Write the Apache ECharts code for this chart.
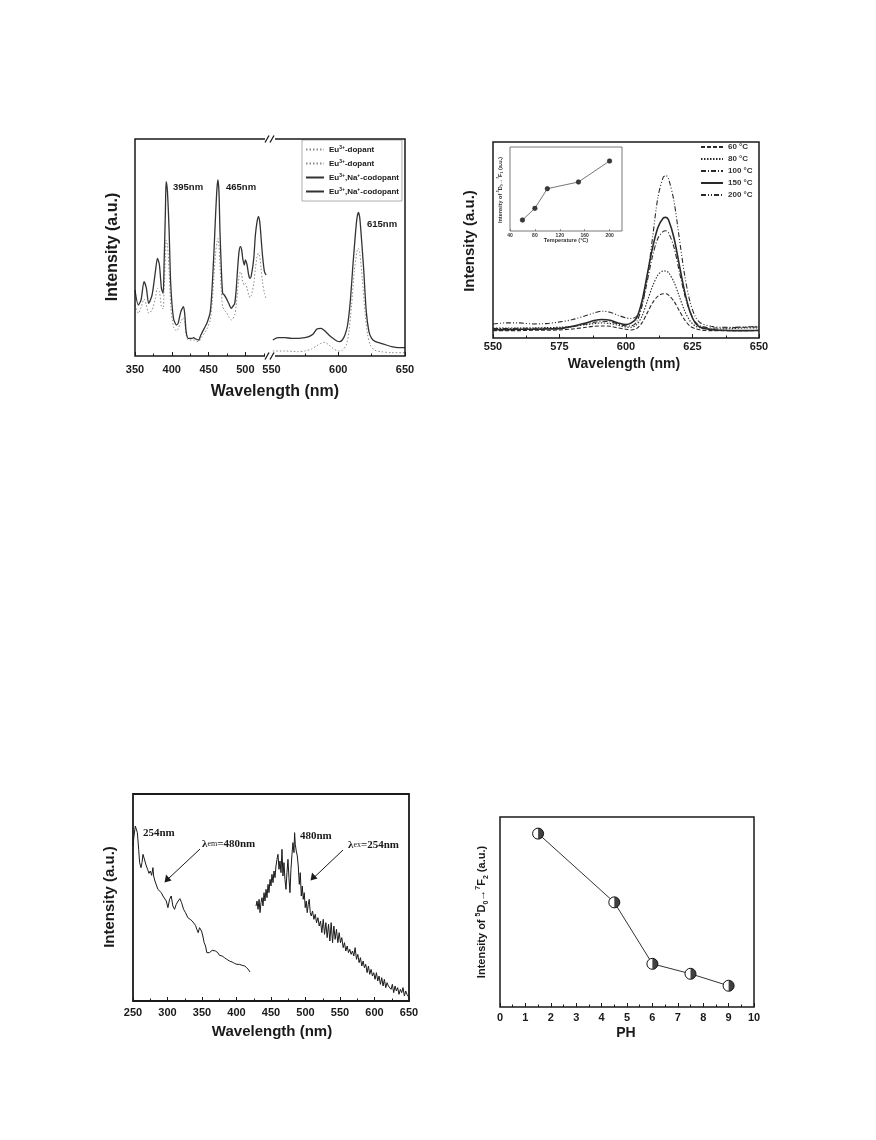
<!DOCTYPE html>
<html><head><meta charset="utf-8">
<script src="https://cdn.jsdelivr.net/npm/echarts@6/dist/echarts.min.js"></script>
<style>html,body{margin:0;padding:0;background:#fff}#c{width:876px;height:1140px}</style>
</head><body><div id="c"></div>
<script>
// ---------- Panel A (top-left): excitation / emission, broken x axis ----------
const aCodopLeft = [[350,198],[354.5,153],[358.2,168],[362.3,223],[365.5,203],[368.6,158],[373.2,183],[377.7,253],[380.5,293],[383.2,273],[385.9,203],[388.2,188],[389.5,273],[391.4,443],[392.3,523],[394.1,493],[396.4,373],[398.6,213],[402.3,113],[406.4,93],[408.6,98],[412.3,133],[415.9,148],[417.7,123],[419.5,73],[422.3,53],[427.7,53],[429.5,55],[432.7,51],[436.4,48],[439.5,63],[444.1,83],[447.7,98],[452.3,133],[455,213],[457.3,313],[459.5,423],[461.4,503],[462.7,528],[464.1,493],[465.5,373],[467.3,263],[469.1,188],[471.4,183],[474.1,173],[477.3,158],[480.9,143],[482.7,148],[485.5,158],[487.3,193],[489.5,263],[491.4,313],[493.2,328],[495,318],[496.4,293],[498.6,273],[500,288],[502.3,273],[504.5,243],[506.4,233],[508.2,243],[511.4,293],[513.6,363],[515.9,403],[517.7,418],[519.5,403],[521.4,353],[523.2,303],[525.9,253],[528.2,243]];
const aDopLeft = [[350,153],[354.5,128],[358.2,145],[362.3,171],[365.5,153],[368.6,128],[373.2,138],[377.7,173],[380.5,203],[383.2,193],[385.9,148],[388.2,141],[389.5,193],[391.4,303],[392.3,348],[394.1,333],[396.4,253],[398.6,148],[402.3,88],[406.4,75],[408.6,81],[412.3,103],[415.9,115],[417.7,101],[419.5,63],[422.3,48],[427.7,48],[429.5,48],[432.7,45],[436.4,43],[439.5,53],[444.1,68],[447.7,81],[452.3,108],[455,163],[457.3,238],[459.5,308],[461.4,343],[462.7,353],[464.1,333],[465.5,273],[467.3,193],[469.1,148],[471.4,138],[474.1,131],[477.3,118],[480.9,108],[482.7,111],[485.5,123],[487.3,148],[489.5,198],[491.4,238],[493.2,253],[495,243],[496.4,223],[498.6,213],[500,218],[502.3,203],[504.5,183],[506.4,175],[508.2,181],[511.4,218],[513.6,263],[515.9,298],[517.7,308],[519.5,298],[521.4,263],[523.2,223],[525.9,188],[528.2,173]];
const aCodopRight = [[551,48],[555,55],[560,55],[565,53],[570,53],[575,55],[578,58],[581,65],[584,81],[587,83],[590,75],[593,63],[596,53],[599,45],[601,43],[603,48],[605,63],[607,93],[609,163],[611,273],[613,373],[614,413],[615,431],[616,418],[617,373],[619,263],[621,133],[623,73],[625,53],[628,43],[632,38],[636,33],[640,28],[645,25],[650,25]];
const aDopRight = [[551,15],[560,15],[570,13],[575,15],[580,21],[584,31],[587,38],[590,41],[593,33],[596,23],[600,15],[603,17],[606,33],[608,73],[610,153],[612,253],[614,313],[615,323],[616,313],[618,233],[620,133],[622,63],[624,33],[627,18],[632,13],[640,10],[650,10]];
const aLegendText = {d1:'{n|Eu}{s|3+}{n|-dopant}', d2:'{n|Eu}{s|3+}{n|-dopant}', c1:'{n|Eu}{s|3+}{n|,Na}{s|+}{n|-codopant}', c2:'{n|Eu}{s|3+}{n|,Na}{s|+}{n|-codopant}'};

// ---------- Panel B (top-right): temperature series ----------
const bX = [550,555,560,565,570,575,580,585,588,591,594,597,600,602,604,606,608,610,612,614,615,616,618,620,622,624,626,628,632,636,640,645,650];
const b60  = [22,22,22,23,23,24,27,32,35,36,35,30,26,24,28,45,75,105,125,132,132,128,110,82,55,36,28,24,22,22,22,22,22];
const b80  = [30,30,30,30,31,32,35,40,43,45,43,38,33,32,40,65,110,155,188,200,200,195,168,125,82,52,36,30,27,27,28,30,30];
const b100 = [28,28,29,29,29,30,34,42,47,50,48,42,36,36,48,95,170,245,298,318,320,314,272,200,130,80,48,36,30,30,31,32,33];
const b150 = [25,25,26,26,27,28,35,45,52,55,53,45,40,45,60,110,190,270,330,358,360,352,300,220,140,80,45,32,25,23,22,22,23];
const b200 = [42,45,45,42,43,48,55,67,75,80,77,68,60,58,65,100,180,300,420,480,485,475,410,300,190,110,65,45,35,32,32,33,35];
const bNames = ['60 °C','80 °C','100 °C','150 °C','200 °C'];
const insetTemp = [60,80,100,150,200];
const insetVal = [33,68,127,147,210];

// ---------- Panel C (bottom-left): excitation & emission ----------
const cExc = [[250,465],[251.4,495],[253.4,525],[254.8,527],[256.3,505],[258.2,455],[259.6,415],[261.6,400],[263,415],[264.5,440],[265.9,445],[267.3,435],[269.3,405],[271.2,395],[273.1,383],[275.1,390],[277,377],[278.9,400],[279.9,375],[281.8,360],[283.7,355],[286.1,335],[288.6,330],[291,325],[293.4,315],[295.8,315],[298.2,300],[300.6,280],[303,305],[305.4,315],[307.8,285],[310.2,275],[312.7,290],[315.5,300],[318,307],[320.4,295],[323.3,275],[326.1,265],[329.5,250],[332.9,245],[335.8,240],[338.2,240],[340.6,227],[342.5,215],[344.5,205],[346.4,220],[347.8,225],[349.3,210],[351.2,195],[353.1,175],[355.1,165],[357,145],[358.9,147],[360.8,145],[362.8,150],[364.7,152],[366.6,155],[369.5,150],[372.9,145],[375.3,137],[379.2,135],[382.5,130],[385.9,125],[389.8,120],[393.6,117],[397,113],[400.4,110],[404.2,110],[408.1,107],[411.9,105],[414.8,100],[417.7,93],[419.6,87]];
const cEm = [[428.3,285],[429.8,300],[431.2,275],[432.7,305],[434.1,265],[435.5,295],[437,310],[438.4,285],[439.9,325],[441.3,300],[442.8,335],[444.2,310],[445.7,350],[447.1,325],[448.6,365],[450,345],[451.4,380],[452.9,355],[454.3,390],[455.8,370],[457.2,405],[458.7,425],[460.1,440],[461.6,395],[463,420],[464.5,385],[465.9,455],[467.3,375],[468.8,415],[470.2,365],[471.7,335],[473.1,385],[474.6,425],[476,370],[477.5,325],[478.9,395],[480.4,440],[481.8,475],[483.3,445],[484.2,505],[485.2,470],[486.6,450],[488.1,435],[489.5,405],[491,350],[492.4,385],[493.9,315],[495.3,345],[496.7,305],[498.2,325],[499.6,280],[501.1,300],[502.5,265],[504,290],[505.4,305],[506.9,265],[508.3,255],[510.2,270],[512.2,245],[514.1,260],[516,235],[518,250],[519.9,225],[521.8,240],[523.7,205],[525.7,245],[527.6,200],[529.5,235],[531.4,190],[533.4,230],[535.3,180],[537.2,235],[539.2,175],[541.1,225],[543,185],[544.9,215],[546.9,175],[548.8,205],[550.7,175],[552.6,190],[554.6,160],[556.5,175],[558.4,150],[560.4,165],[562.3,145],[564.2,155],[566.1,140],[568.1,150],[570,135],[571.9,160],[573.9,125],[575.8,140],[577.7,115],[579.6,130],[581.6,105],[583.5,120],[585.4,100],[587.3,110],[589.3,85],[591.2,105],[593.1,80],[595.1,95],[597,75],[598.9,85],[600.8,65],[602.8,85],[604.7,60],[606.6,75],[608.6,50],[610.5,70],[612.4,45],[614.3,65],[616.3,40],[618.2,55],[620.1,45],[622,50],[624,35],[625.9,50],[627.8,25],[629.8,45],[631.7,30],[633.6,40],[635.5,20],[637.5,35],[639.4,25],[641.3,40],[643.3,15],[645.2,30],[647.1,20],[649,15],[650,10]];

// ---------- Panel D (bottom-right): pH ----------
const dPH = [1.5,4.5,6,7.5,9];
const dVal = [522,315,130,100,64];

// ================= chart =================
const SANS = 'Liberation Sans, Arial, sans-serif';
const SERIF = 'Liberation Serif, Times New Roman, serif';
const INK = '#1a1a1a';
const G = {
  aL:{left:135, top:139, width:136.5, height:217},
  aR:{left:271.5, top:139, width:133.5, height:217},
  b:{left:493, top:142, width:266, height:196},
  bi:{left:510, top:147, width:112, height:84},
  c:{left:133, top:794, width:276, height:207},
  d:{left:500, top:817, width:254, height:190}
};
const zip = (xs, ys) => xs.map((x,i)=>[x, ys[i]]);
const tickLbl = (size, margin) => ({fontFamily:SANS, fontWeight:'bold', fontSize:size, color:INK, margin:margin});
function xAx(grid, min, max, interval, lbl, extra) {
  return Object.assign({
    type:'value', gridIndex:grid, min:min, max:max, interval:interval,
    axisLine:{show:false}, splitLine:{show:false},
    axisTick:{show:true, inside:true, length:4, lineStyle:{color:INK, width:1}},
    minorTick:{show:true, splitNumber:2, length:2.5, lineStyle:{color:INK, width:1}},
    axisLabel:lbl
  }, extra || {});
}
function yAx(grid, max) {
  return {type:'value', gridIndex:grid, min:0, max:max, show:false};
}
const frame = {show:true, borderColor:INK, borderWidth:1.5, backgroundColor:'transparent'};

const series = [];
// Panel A
series.push({name:'d1', type:'line', xAxisIndex:0, yAxisIndex:0, data:aDopLeft, symbol:'none', smooth:0.25, color:'#8c8c8c', lineStyle:{color:'#8c8c8c', width:1, type:[1.5,2]}});
series.push({name:'d2', type:'line', xAxisIndex:1, yAxisIndex:1, data:aDopRight, symbol:'none', smooth:0.25, color:'#8c8c8c', lineStyle:{color:'#8c8c8c', width:1, type:[1.5,2]}});
series.push({name:'c1', type:'line', xAxisIndex:0, yAxisIndex:0, data:aCodopLeft, symbol:'none', smooth:0.25, color:'#333', lineStyle:{color:'#333', width:1.3}});
series.push({name:'c2', type:'line', xAxisIndex:1, yAxisIndex:1, data:aCodopRight, symbol:'none', smooth:0.25, color:'#333', lineStyle:{color:'#333', width:1.3}});
// Panel B
const bData = [b60,b80,b100,b150,b200];
const bDash = [[4,2],[1.5,1.5],[5,2,1,2],'solid',[5,2,1,2,1,2]];
bData.forEach((arr,i)=>{
  series.push({name:bNames[i], type:'line', xAxisIndex:2, yAxisIndex:2, data:zip(bX,arr), symbol:'none', smooth:0.3,
    color:'#2a2a2a', lineStyle:{color:'#2a2a2a', width: i===3 ? 1.6 : 1.1, type:bDash[i]}});
});
series.push({name:'inset', type:'line', xAxisIndex:3, yAxisIndex:3, data:zip(insetTemp,insetVal), symbol:'circle', symbolSize:4.5,
  itemStyle:{color:'#3a3a3a', borderColor:'#222', borderWidth:0.6}, lineStyle:{color:'#666', width:0.9}, z:6});
// Panel C
series.push({name:'exc', type:'line', xAxisIndex:4, yAxisIndex:4, data:cExc, symbol:'none', color:INK, lineStyle:{color:INK, width:1}});
series.push({name:'em', type:'line', xAxisIndex:4, yAxisIndex:4, data:cEm, symbol:'none', color:INK, lineStyle:{color:INK, width:1}});
// Panel D
series.push({name:'ph', type:'line', xAxisIndex:5, yAxisIndex:5, data:zip(dPH,dVal), symbol:'circle', symbolSize:11,
  itemStyle:{color:'#fff', borderColor:'#111', borderWidth:1}, lineStyle:{color:'#333', width:1}, z:3});
series.push({name:'phHalf', type:'scatter', xAxisIndex:5, yAxisIndex:5, data:zip(dPH,dVal), symbol:'path://M0,0 A10,10 0 0 1 0,20 Z',
  symbolSize:[5.5,11], symbolOffset:[2.75,0], itemStyle:{color:'#111'}, z:4, silent:true});

const graphic = [
  // panel A frame and axis breaks
  {type:'rect', shape:{x:135, y:139, width:270, height:217}, style:{fill:'none', stroke:INK, lineWidth:1.5}, z:50},
  {type:'rect', shape:{x:265, y:135, width:10, height:8}, style:{fill:'#fff'}, z:51},
  {type:'rect', shape:{x:265, y:352, width:10, height:8}, style:{fill:'#fff'}, z:51},
  {type:'line', shape:{x1:265, y1:142.5, x2:269, y2:135.5}, style:{stroke:INK, lineWidth:1.3}, z:52},
  {type:'line', shape:{x1:270, y1:142.5, x2:274, y2:135.5}, style:{stroke:INK, lineWidth:1.3}, z:52},
  {type:'line', shape:{x1:265, y1:359.5, x2:269, y2:352.5}, style:{stroke:INK, lineWidth:1.3}, z:52},
  {type:'line', shape:{x1:270, y1:359.5, x2:274, y2:352.5}, style:{stroke:INK, lineWidth:1.3}, z:52},
  {type:'text', x:173, y:187, style:{text:'395nm', font:'bold 9.5px '+SANS, fill:INK, verticalAlign:'middle'}, z:52},
  {type:'text', x:226, y:187, style:{text:'465nm', font:'bold 9.5px '+SANS, fill:INK, verticalAlign:'middle'}, z:52},
  {type:'text', x:367, y:224, style:{text:'615nm', font:'bold 9.5px '+SANS, fill:INK, verticalAlign:'middle'}, z:52},
  {type:'text', x:275, y:392, style:{text:'Wavelength (nm)', font:'bold 16px '+SANS, fill:INK, align:'center', verticalAlign:'middle'}, z:52},
  {type:'text', x:113, y:247, rotation:Math.PI/2, style:{text:'Intensity (a.u.)', font:'bold 16px '+SANS, fill:INK, align:'center', verticalAlign:'middle'}, z:52},
  // panel B
  {type:'text', x:624, y:364, style:{text:'Wavelength (nm)', font:'bold 14px '+SANS, fill:INK, align:'center', verticalAlign:'middle'}, z:52},
  {type:'text', x:470, y:241, rotation:Math.PI/2, style:{text:'Intensity (a.u.)', font:'bold 15px '+SANS, fill:INK, align:'center', verticalAlign:'middle'}, z:52},
  {type:'text', x:566, y:240.5, style:{text:'Temperature (°C)', font:'bold 5.5px '+SANS, fill:'#333', align:'center', verticalAlign:'middle'}, z:52},
  {type:'text', x:500, y:190, rotation:Math.PI/2, style:{
    text:'{t|Intensity of }{p|5}{t|D}{b|0}{t|→}{p|7}{t|F}{b|1}{t| (a.u.)}', align:'center', verticalAlign:'middle',
    rich:{t:{font:'bold 5.5px '+SANS, fill:'#333', lineHeight:8}, p:{font:'bold 3.5px '+SANS, fill:'#333', verticalAlign:'top', lineHeight:4}, b:{font:'bold 3.5px '+SANS, fill:'#333', verticalAlign:'bottom', lineHeight:4}}}, z:52},
  // panel C
  {type:'text', x:272, y:1032, style:{text:'Wavelength (nm)', font:'bold 15px '+SANS, fill:INK, align:'center', verticalAlign:'middle'}, z:52},
  {type:'text', x:110, y:897, rotation:Math.PI/2, style:{text:'Intensity (a.u.)', font:'bold 15px '+SANS, fill:INK, align:'center', verticalAlign:'middle'}, z:52},
  {type:'text', x:143, y:833, style:{text:'254nm', font:'bold 11px '+SERIF, fill:INK, verticalAlign:'middle'}, z:52},
  {type:'text', x:300, y:836, style:{text:'480nm', font:'bold 11px '+SERIF, fill:INK, verticalAlign:'middle'}, z:52},
  {type:'text', x:202, y:844, style:{text:'{l|λ}{s|em}{l|=480nm}', verticalAlign:'middle',
    rich:{l:{font:'bold 11px '+SERIF, fill:INK}, s:{font:'8px '+SERIF, fill:INK}}}, z:52},
  {type:'text', x:348, y:845, style:{text:'{l|λ}{s|ex}{l|=254nm}', verticalAlign:'middle',
    rich:{l:{font:'bold 11px '+SERIF, fill:INK}, s:{font:'8px '+SERIF, fill:INK}}}, z:52},
  {type:'line', shape:{x1:200, y1:849, x2:168, y2:879}, style:{stroke:INK, lineWidth:1}, z:52},
  {type:'polygon', shape:{points:[[164.5,882.5],[166,874.5],[171.5,880.5]]}, style:{fill:INK}, z:52},
  {type:'line', shape:{x1:343, y1:850, x2:314, y2:877.5}, style:{stroke:INK, lineWidth:1}, z:52},
  {type:'polygon', shape:{points:[[310.5,880.5],[312,872.5],[317.5,878.5]]}, style:{fill:INK}, z:52},
  // panel D
  {type:'text', x:626, y:1033, style:{text:'PH', font:'bold 14px '+SANS, fill:INK, align:'center', verticalAlign:'middle'}, z:52},
  {type:'text', x:482, y:912, rotation:Math.PI/2, style:{
    text:'{t|Intensity of }{p|5}{t|D}{b|0}{t|→}{p|7}{t|F}{b|2}{t| (a.u.)}', align:'center', verticalAlign:'middle',
    rich:{t:{font:'bold 11px '+SANS, fill:INK, lineHeight:15}, p:{font:'bold 7px '+SANS, fill:INK, verticalAlign:'top', lineHeight:8}, b:{font:'bold 7px '+SANS, fill:INK, verticalAlign:'bottom', lineHeight:8}}}, z:52}
];

const option = {
  animation:false,
  backgroundColor:'#fff',
  grid:[
    Object.assign({}, G.aL, {show:false}),
    Object.assign({}, G.aR, {show:false}),
    Object.assign({}, G.b, frame),
    Object.assign({}, G.bi, {show:true, borderColor:'#555', borderWidth:0.8, backgroundColor:'transparent'}),
    Object.assign({}, G.c, frame, {borderWidth:1.8}),
    Object.assign({}, G.d, frame)
  ],
  xAxis:[
    xAx(0, 350, 535.5, 50, Object.assign(tickLbl(11, 8), {showMaxLabel:false})),
    xAx(1, 550, 650, 50, tickLbl(11, 8)),
    xAx(2, 550, 650, 25, tickLbl(11, 3)),
    xAx(3, 40, 220, 40, Object.assign(tickLbl(5, 2), {color:'#333', showMaxLabel:false}), {axisTick:{show:true, inside:true, length:2, lineStyle:{color:'#555', width:0.6}}, minorTick:{show:false}}),
    xAx(4, 250, 650, 50, tickLbl(11, 6)),
    xAx(5, 0, 10, 1, tickLbl(11, 5))
  ],
  yAxis:[yAx(0,651), yAx(1,651), yAx(2,585), yAx(3,252), yAx(4,621), yAx(5,572)],
  legend:[
    {data:['d1','d2','c1','c2'], orient:'vertical', left:302, top:140, itemWidth:18, itemHeight:9, itemGap:5,
      padding:[5,3,5,3], borderColor:'#999', borderWidth:0.8, backgroundColor:'#fff', selectedMode:false, itemStyle:{opacity:0},
      formatter:n=>aLegendText[n],
      textStyle:{fontFamily:SANS, fontWeight:'bold', fontSize:8, color:INK, lineHeight:9,
        rich:{n:{fontFamily:SANS, fontWeight:'bold', fontSize:8, color:INK, lineHeight:9},
              s:{fontFamily:SANS, fontWeight:'bold', fontSize:5, color:INK, verticalAlign:'top', lineHeight:6}}}},
    {data:bNames, orient:'vertical', left:700, top:143, itemWidth:22, itemHeight:6, itemGap:4, padding:0, selectedMode:false,
      itemStyle:{opacity:0},
      textStyle:{fontFamily:SANS, fontWeight:'bold', fontSize:8, color:'#333'}}
  ],
  graphic:graphic,
  series:series
};
const chart = echarts.init(document.getElementById('c'), null, {renderer:'canvas'});
chart.setOption(option);
</script></body></html>
